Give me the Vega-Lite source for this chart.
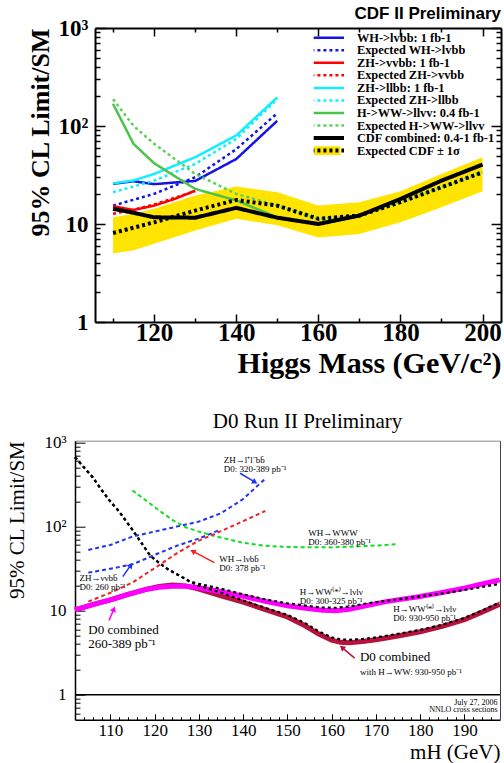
{
"$schema":"https://vega.github.io/schema/vega-lite/v6.json",
"background":"white",
"padding":{"left":6,"top":4,"right":0,"bottom":0},
"columns":1,
"bounds":"flush",
"spacing":118.7,
"resolve":{"scale":{"stroke":"independent","strokeDash":"independent","fill":"independent","angle":"independent"},"legend":{"stroke":"independent","strokeDash":"independent","fill":"independent"}},
"config":{"view":{"stroke":null},"axis":{"grid":false,"tickColor":"black","domainColor":"black","labelColor":"black","titleColor":"black","labelFlush":false,"labelOverlap":false}},
"datasets":{
"cdfband":[
{"m":110,"lo":5.0,"hi":11.7},{"m":115,"lo":5.4,"hi":12.7},{"m":120,"lo":6.3,"hi":14.3},{"m":130,"lo":8.6,"hi":19.5},{"m":140,"lo":11.3,"hi":24.1},{"m":150,"lo":9.7,"hi":21.1},{"m":160,"lo":7.3,"hi":15.4},{"m":170,"lo":7.9,"hi":16.7},{"m":180,"lo":10.4,"hi":21.6},{"m":190,"lo":14.8,"hi":32.4},{"m":200,"lo":21.6,"hi":48}],
"cdflines":[
{"s":"WH->lvbb: 1 fb-1","m":110,"v":25.7},{"s":"WH->lvbb: 1 fb-1","m":115,"v":27.3},{"s":"WH->lvbb: 1 fb-1","m":120,"v":25.5},{"s":"WH->lvbb: 1 fb-1","m":125,"v":26.5},{"s":"WH->lvbb: 1 fb-1","m":130,"v":27.5},{"s":"WH->lvbb: 1 fb-1","m":140,"v":46},{"s":"WH->lvbb: 1 fb-1","m":150,"v":113},
{"s":"Expected WH->lvbb","m":110,"v":15.4},{"s":"Expected WH->lvbb","m":120,"v":20.3},{"s":"Expected WH->lvbb","m":130,"v":30},{"s":"Expected WH->lvbb","m":140,"v":58},{"s":"Expected WH->lvbb","m":150,"v":135},
{"s":"ZH->vvbb: 1 fb-1","m":110,"v":15.2},{"s":"ZH->vvbb: 1 fb-1","m":115,"v":13.9},{"s":"ZH->vvbb: 1 fb-1","m":120,"v":15.4},{"s":"ZH->vvbb: 1 fb-1","m":125,"v":18},{"s":"ZH->vvbb: 1 fb-1","m":130,"v":21.9},
{"s":"Expected ZH->vvbb","m":110,"v":12.7},{"s":"Expected ZH->vvbb","m":115,"v":14},{"s":"Expected ZH->vvbb","m":120,"v":15.8},{"s":"Expected ZH->vvbb","m":125,"v":18.5},{"s":"Expected ZH->vvbb","m":130,"v":21.6},
{"s":"ZH->llbb: 1 fb-1","m":110,"v":26},{"s":"ZH->llbb: 1 fb-1","m":115,"v":27.8},{"s":"ZH->llbb: 1 fb-1","m":120,"v":32.4},{"s":"ZH->llbb: 1 fb-1","m":130,"v":48},{"s":"ZH->llbb: 1 fb-1","m":140,"v":80},{"s":"ZH->llbb: 1 fb-1","m":150,"v":196},
{"s":"Expected ZH->llbb","m":110,"v":21.1},{"s":"Expected ZH->llbb","m":120,"v":27.7},{"s":"Expected ZH->llbb","m":130,"v":41},{"s":"Expected ZH->llbb","m":140,"v":74},{"s":"Expected ZH->llbb","m":150,"v":188},
{"s":"H->WW->llvv: 0.4 fb-1","m":110,"v":168},{"s":"H->WW->llvv: 0.4 fb-1","m":115,"v":65.6},{"s":"H->WW->llvv: 0.4 fb-1","m":120,"v":41.7},{"s":"H->WW->llvv: 0.4 fb-1","m":130,"v":22.8},{"s":"H->WW->llvv: 0.4 fb-1","m":140,"v":17.4},{"s":"H->WW->llvv: 0.4 fb-1","m":150,"v":11.7},{"s":"H->WW->llvv: 0.4 fb-1","m":160,"v":10.2},{"s":"H->WW->llvv: 0.4 fb-1","m":170,"v":12.2},{"s":"H->WW->llvv: 0.4 fb-1","m":180,"v":18},{"s":"H->WW->llvv: 0.4 fb-1","m":190,"v":27.7},{"s":"H->WW->llvv: 0.4 fb-1","m":200,"v":40.4},
{"s":"Expected H->WW->llvv","m":110,"v":188},{"s":"Expected H->WW->llvv","m":115,"v":100},{"s":"Expected H->WW->llvv","m":120,"v":66},{"s":"Expected H->WW->llvv","m":130,"v":32.4},{"s":"Expected H->WW->llvv","m":140,"v":20.3},{"s":"Expected H->WW->llvv","m":150,"v":15.4},{"s":"Expected H->WW->llvv","m":160,"v":11.3},{"s":"Expected H->WW->llvv","m":170,"v":12.2},{"s":"Expected H->WW->llvv","m":180,"v":16.7},{"s":"Expected H->WW->llvv","m":190,"v":23.7},{"s":"Expected H->WW->llvv","m":200,"v":33.7},
{"s":"CDF combined: 0.4-1 fb-1","m":110,"v":14.3},{"s":"CDF combined: 0.4-1 fb-1","m":115,"v":13},{"s":"CDF combined: 0.4-1 fb-1","m":120,"v":11.7},{"s":"CDF combined: 0.4-1 fb-1","m":130,"v":11.6},{"s":"CDF combined: 0.4-1 fb-1","m":140,"v":14.6},{"s":"CDF combined: 0.4-1 fb-1","m":150,"v":11.6},{"s":"CDF combined: 0.4-1 fb-1","m":160,"v":10},{"s":"CDF combined: 0.4-1 fb-1","m":170,"v":12.2},{"s":"CDF combined: 0.4-1 fb-1","m":180,"v":18},{"s":"CDF combined: 0.4-1 fb-1","m":190,"v":27.7},{"s":"CDF combined: 0.4-1 fb-1","m":200,"v":40.4},
{"s":"Expected CDF ± 1σ","m":110,"v":8.1},{"s":"Expected CDF ± 1σ","m":120,"v":10.4},{"s":"Expected CDF ± 1σ","m":130,"v":13.7},{"s":"Expected CDF ± 1σ","m":140,"v":17.6},{"s":"Expected CDF ± 1σ","m":150,"v":15.4},{"s":"Expected CDF ± 1σ","m":160,"v":11.3},{"s":"Expected CDF ± 1σ","m":170,"v":12.2},{"s":"Expected CDF ± 1σ","m":180,"v":16.7},{"s":"Expected CDF ± 1σ","m":190,"v":23.7},{"s":"Expected CDF ± 1σ","m":200,"v":33.7}],
"d0lines":[
{"s":"D0 combined 260-389","m":102,"v":10.2},{"s":"D0 combined 260-389","m":106,"v":11.8},{"s":"D0 combined 260-389","m":110,"v":13.4},{"s":"D0 combined 260-389","m":114,"v":15.6},{"s":"D0 combined 260-389","m":118,"v":17.8},{"s":"D0 combined 260-389","m":121,"v":19.0},{"s":"D0 combined 260-389","m":124,"v":19.5},{"s":"D0 combined 260-389","m":127,"v":19.5},{"s":"D0 combined 260-389","m":130,"v":18.7},{"s":"D0 combined 260-389","m":135,"v":16.8},{"s":"D0 combined 260-389","m":140,"v":14.8},{"s":"D0 combined 260-389","m":145,"v":12.9},{"s":"D0 combined 260-389","m":150,"v":11.4},{"s":"D0 combined 260-389","m":155,"v":10.5},{"s":"D0 combined 260-389","m":158,"v":10.1},{"s":"D0 combined 260-389","m":161,"v":10.0},{"s":"D0 combined 260-389","m":164,"v":10.4},{"s":"D0 combined 260-389","m":168,"v":11.5},{"s":"D0 combined 260-389","m":172,"v":12.7},{"s":"D0 combined 260-389","m":176,"v":13.7},{"s":"D0 combined 260-389","m":180,"v":14.7},{"s":"D0 combined 260-389","m":185,"v":16.4},{"s":"D0 combined 260-389","m":190,"v":18.5},{"s":"D0 combined 260-389","m":194,"v":20.7},{"s":"D0 combined 260-389","m":198,"v":23.2},
{"s":"D0 combined 930-950","m":102,"v":10.2},{"s":"D0 combined 930-950","m":106,"v":11.8},{"s":"D0 combined 930-950","m":110,"v":13.4},{"s":"D0 combined 930-950","m":114,"v":15.6},{"s":"D0 combined 930-950","m":118,"v":17.9},{"s":"D0 combined 930-950","m":121,"v":19.4},{"s":"D0 combined 930-950","m":124,"v":20.1},{"s":"D0 combined 930-950","m":127,"v":19.7},{"s":"D0 combined 930-950","m":130,"v":18.0},{"s":"D0 combined 930-950","m":135,"v":15.0},{"s":"D0 combined 930-950","m":140,"v":12.6},{"s":"D0 combined 930-950","m":145,"v":10.3},{"s":"D0 combined 930-950","m":150,"v":8.4},{"s":"D0 combined 930-950","m":154,"v":6.6},{"s":"D0 combined 930-950","m":157,"v":5.3},{"s":"D0 combined 930-950","m":160,"v":4.45},{"s":"D0 combined 930-950","m":162,"v":4.2},{"s":"D0 combined 930-950","m":164,"v":4.15},{"s":"D0 combined 930-950","m":167,"v":4.3},{"s":"D0 combined 930-950","m":170,"v":4.5},{"s":"D0 combined 930-950","m":175,"v":5.0},{"s":"D0 combined 930-950","m":180,"v":5.6},{"s":"D0 combined 930-950","m":185,"v":6.5},{"s":"D0 combined 930-950","m":190,"v":7.8},{"s":"D0 combined 930-950","m":194,"v":9.6},{"s":"D0 combined 930-950","m":198,"v":11.9},
{"s":"HWW 300-325","m":102,"v":665},{"s":"HWW 300-325","m":104,"v":506},{"s":"HWW 300-325","m":106,"v":385},{"s":"HWW 300-325","m":108,"v":272},{"s":"HWW 300-325","m":110,"v":198},{"s":"HWW 300-325","m":112,"v":150},{"s":"HWW 300-325","m":115,"v":91},{"s":"HWW 300-325","m":117,"v":64},{"s":"HWW 300-325","m":119,"v":45},{"s":"HWW 300-325","m":121,"v":37},{"s":"HWW 300-325","m":123,"v":31},{"s":"HWW 300-325","m":126,"v":25.4},{"s":"HWW 300-325","m":128,"v":22.2},{"s":"HWW 300-325","m":130,"v":20.8},{"s":"HWW 300-325","m":135,"v":18.2},{"s":"HWW 300-325","m":140,"v":15.6},{"s":"HWW 300-325","m":145,"v":13.6},{"s":"HWW 300-325","m":150,"v":12.2},{"s":"HWW 300-325","m":155,"v":11.3},{"s":"HWW 300-325","m":158,"v":10.9},{"s":"HWW 300-325","m":161,"v":10.8},{"s":"HWW 300-325","m":164,"v":11.2},{"s":"HWW 300-325","m":168,"v":12.2},{"s":"HWW 300-325","m":172,"v":13.0},{"s":"HWW 300-325","m":176,"v":13.8},{"s":"HWW 300-325","m":180,"v":14.8},{"s":"HWW 300-325","m":185,"v":16.0},{"s":"HWW 300-325","m":190,"v":17.6},{"s":"HWW 300-325","m":194,"v":19.1},{"s":"HWW 300-325","m":198,"v":20.8},
{"s":"HWW 930-950","m":102,"v":665},{"s":"HWW 930-950","m":104,"v":506},{"s":"HWW 930-950","m":106,"v":385},{"s":"HWW 930-950","m":108,"v":272},{"s":"HWW 930-950","m":110,"v":198},{"s":"HWW 930-950","m":112,"v":150},{"s":"HWW 930-950","m":115,"v":91},{"s":"HWW 930-950","m":117,"v":64},{"s":"HWW 930-950","m":119,"v":45},{"s":"HWW 930-950","m":121,"v":37},{"s":"HWW 930-950","m":123,"v":31},{"s":"HWW 930-950","m":126,"v":25.4},{"s":"HWW 930-950","m":128,"v":22.0},{"s":"HWW 930-950","m":130,"v":19.8},{"s":"HWW 930-950","m":135,"v":16.3},{"s":"HWW 930-950","m":140,"v":13.2},{"s":"HWW 930-950","m":145,"v":10.8},{"s":"HWW 930-950","m":150,"v":8.9},{"s":"HWW 930-950","m":154,"v":7.1},{"s":"HWW 930-950","m":157,"v":5.7},{"s":"HWW 930-950","m":160,"v":4.8},{"s":"HWW 930-950","m":162,"v":4.55},{"s":"HWW 930-950","m":164,"v":4.5},{"s":"HWW 930-950","m":167,"v":4.6},{"s":"HWW 930-950","m":170,"v":4.8},{"s":"HWW 930-950","m":175,"v":5.3},{"s":"HWW 930-950","m":180,"v":5.9},{"s":"HWW 930-950","m":185,"v":6.8},{"s":"HWW 930-950","m":190,"v":8.2},{"s":"HWW 930-950","m":194,"v":10.0},{"s":"HWW 930-950","m":198,"v":12.6},
{"s":"WH→WWW","m":115,"v":268},{"s":"WH→WWW","m":118,"v":205},{"s":"WH→WWW","m":121,"v":155},{"s":"WH→WWW","m":124,"v":120},{"s":"WH→WWW","m":127,"v":98},{"s":"WH→WWW","m":130,"v":87},{"s":"WH→WWW","m":134,"v":76},{"s":"WH→WWW","m":140,"v":64},{"s":"WH→WWW","m":145,"v":59},{"s":"WH→WWW","m":150,"v":57},{"s":"WH→WWW","m":160,"v":56.5},{"s":"WH→WWW","m":165,"v":57.8},{"s":"WH→WWW","m":170,"v":59.4},{"s":"WH→WWW","m":174.5,"v":61.5},
{"s":"ZH→llbb","m":105,"v":52.7},{"s":"ZH→llbb","m":110,"v":60.4},{"s":"ZH→llbb","m":115,"v":76},{"s":"ZH→llbb","m":120,"v":87.1},{"s":"ZH→llbb","m":125,"v":99.8},{"s":"ZH→llbb","m":130,"v":114.5},{"s":"ZH→llbb","m":135,"v":143.8},{"s":"ZH→llbb","m":140,"v":212},{"s":"ZH→llbb","m":145,"v":370},
{"s":"ZH→ννbb","m":105,"v":28.3},{"s":"ZH→ννbb","m":110,"v":31.5},{"s":"ZH→ννbb","m":115,"v":35.5},{"s":"ZH→ννbb","m":120,"v":46},{"s":"ZH→ννbb","m":125,"v":59},{"s":"ZH→ννbb","m":130,"v":72},{"s":"ZH→ννbb","m":134.5,"v":90},
{"s":"WH→lνbb","m":105,"v":12.8},{"s":"WH→lνbb","m":110,"v":16.3},{"s":"WH→lνbb","m":115,"v":21.6},{"s":"WH→lνbb","m":120,"v":32},{"s":"WH→lνbb","m":125,"v":48},{"s":"WH→lνbb","m":130,"v":68},{"s":"WH→lνbb","m":135,"v":88},{"s":"WH→lνbb","m":140,"v":116},{"s":"WH→lνbb","m":145,"v":153}],
"d0arrows":[
{"s":"ZH→llbb","m":139.3,"v":430,"m2":142.5,"v2":341,"dir":121},
{"s":"WH→lνbb","m":133.5,"v":37.3,"m2":128.8,"v2":50.3,"dir":298},
{"s":"ZH→ννbb","m":112.8,"v":25.4,"m2":114.5,"v2":34.0,"dir":35},
{"s":"D0 combined 260-389","m":109.7,"v":7.63,"m2":110.7,"v2":10.2,"dir":22},
{"s":"D0 combined 930-950","m":165.2,"v":2.73,"m2":162.5,"v2":3.59,"dir":309}],
"d0labels":[
{"m":135.6,"v":574,"t":"ZH→l⁺l⁻bb̄\nD0: 320-389 pb⁻¹"},
{"m":154.7,"v":78,"t":"WH→WWW\nD0: 360-380 pb⁻¹"},
{"m":134.6,"v":38.3,"t":"WH→lνbb̄\nD0: 378 pb⁻¹"},
{"m":103.0,"v":22.8,"t":"ZH→ννbb̄\nD0: 260 pb⁻¹"},
{"m":152.8,"v":15.4,"t":"H→WW⁽*⁾→lνlν\nD0: 300-325 pb⁻¹"},
{"m":173.9,"v":9.76,"t":"H→WW⁽*⁾→lνlν\nD0: 930-950 pb⁻¹"},
{"m":166.4,"v":1.695,"t":"with H→WW: 930-950 pb⁻¹"}],
"d0captions":[
{"m":105.0,"v":5.30,"t":"D0 combined\n260-389 pb⁻¹"},
{"m":166.4,"v":2.49,"t":"D0 combined"}],
"d0stamp":[
{"m":197.5,"v":0.76,"t":"July 27, 2006\nNNLO cross sections"}]
},
"concat":[
{
"width":426,"height":294,
"title":{"text":"CDF II Preliminary","anchor":"end","frame":"group","font":"Liberation Sans","fontWeight":"bold","fontSize":17,"offset":-5.5,"color":"black"},
"resolve":{"axis":{"x":"independent","y":"independent"}},
"layer":[
{"data":{"name":"cdfband"},
"mark":{"type":"area","opacity":1},
"encoding":{
"x":{"field":"m","type":"quantitative","scale":{"domain":[105.6,204.5],"range":[20,426],"nice":false,"zero":false},
"axis":{"orient":"bottom","values":[120,140,160,180,200],"tickSize":-8,"tickWidth":1.5,"domain":true,"domainWidth":2,"labelFont":"Liberation Serif","labelFontWeight":"bold","labelFontSize":25,"labelPadding":6,"title":"Higgs Mass (GeV/c²)","titleFont":"Liberation Serif","titleFontWeight":"bold","titleFontSize":30,"titleAnchor":"end","titlePadding":3}},
"y":{"field":"hi","type":"quantitative","scale":{"type":"log","domain":[1,1000],"nice":false},
"axis":{"orient":"left","offset":-20,"values":[1,10,100,1000],"tickSize":-10,"tickWidth":1.5,"domain":true,"domainWidth":2,"labelFont":"Liberation Serif","labelFontWeight":"bold","labelFontSize":23,"labelPadding":17,"labelExpr":"datum.value > 500 ? '10³' : datum.value > 50 ? '10²' : datum.value > 5 ? '10' : '1'","title":"95% CL Limit/SM","titleFont":"Liberation Serif","titleFontWeight":"bold","titleFontSize":26,"titleAnchor":"end","titlePadding":5}},
"y2":{"field":"lo"},
"fill":{"datum":"Expected CDF ± 1σ","type":"nominal","scale":{"range":["#ffe400"]},
"legend":{"title":null,"orient":"none","legendX":238.7,"legendY":116.35,"symbolType":"M-2.6,-0.7H2.6V0.7H-2.6Z","symbolSize":157,"symbolOffset":9.8,"symbolStrokeWidth":0,"symbolOpacity":1,"clipHeight":12.55,"padding":0,"labelFont":"Liberation Serif","labelFontSize":12.4,"labelOpacity":0,"labelExpr":"''"}}
}},
{"data":{"name":"cdflines"},
"transform":[{"filter":{"field":"s","oneOf":["WH->lvbb: 1 fb-1","Expected WH->lvbb","ZH->vvbb: 1 fb-1","Expected ZH->vvbb","ZH->llbb: 1 fb-1","Expected ZH->llbb","H->WW->llvv: 0.4 fb-1","Expected H->WW->llvv"]}}],
"mark":{"type":"line","strokeWidth":2.5},
"encoding":{
"x":{"field":"m","type":"quantitative","scale":{"domain":[105.6,204.5],"range":[20,426],"nice":false,"zero":false},"axis":{"orient":"bottom","values":[110,130,150,170,190],"tickSize":-4,"tickWidth":1.5,"domain":false,"labels":false,"title":null}},
"y":{"field":"v","type":"quantitative","scale":{"type":"log","domain":[1,1000],"nice":false},"axis":{"orient":"left","offset":-20,"values":[2,3,4,5,6,7,8,9,20,30,40,50,60,70,80,90,200,300,400,500,600,700,800,900],"tickSize":-5,"tickWidth":1.5,"domain":false,"labels":false,"title":null}},
"stroke":{"field":"s","type":"nominal","scale":{"domain":["WH->lvbb: 1 fb-1","Expected WH->lvbb","ZH->vvbb: 1 fb-1","Expected ZH->vvbb","ZH->llbb: 1 fb-1","Expected ZH->llbb","H->WW->llvv: 0.4 fb-1","Expected H->WW->llvv","CDF combined: 0.4-1 fb-1","Expected CDF ± 1σ"],"range":["#1414e6","#1414e6","#ff0000","#ff0000","#11eeff","#11eeff","#4cc44c","#5ad25a","#000000","#000000"]},
"legend":{"title":null,"orient":"none","legendX":238.7,"legendY":3.4,"symbolType":"M-2.6,0H2.6","symbolSize":157,"symbolOffset":7.8,"symbolStrokeWidth":2.5,"clipHeight":12.55,"gridAlign":"none","rowPadding":-0.45,"padding":0,"labelFont":"Liberation Serif","labelFontWeight":"bold","labelFontSize":12.4,"labelColor":"black","labelOffset":23,"labelLimit":400,"encode":{"symbols":{"update":{"strokeWidth":{"signal":"datum.value === 'CDF combined: 0.4-1 fb-1' || datum.value === 'Expected CDF ± 1σ' ? 4 : 2.5"}}}}}},
"strokeDash":{"field":"s","type":"nominal","scale":{"domain":["WH->lvbb: 1 fb-1","Expected WH->lvbb","ZH->vvbb: 1 fb-1","Expected ZH->vvbb","ZH->llbb: 1 fb-1","Expected ZH->llbb","H->WW->llvv: 0.4 fb-1","Expected H->WW->llvv","CDF combined: 0.4-1 fb-1","Expected CDF ± 1σ"],"range":[[1,0],[3,3],[1,0],[3,3],[1,0],[3,3],[1,0],[3,3],[1,0],[3,3]]},
"legend":{"title":null,"orient":"none","legendX":238.7,"legendY":3.4,"symbolType":"M-2.6,0H2.6","symbolSize":157,"symbolOffset":7.8,"symbolStrokeWidth":2.5,"clipHeight":12.55,"gridAlign":"none","rowPadding":-0.45,"padding":0,"labelFont":"Liberation Serif","labelFontWeight":"bold","labelFontSize":12.4,"labelColor":"black","labelOffset":23,"labelLimit":400,"encode":{"symbols":{"update":{"strokeWidth":{"signal":"datum.value === 'CDF combined: 0.4-1 fb-1' || datum.value === 'Expected CDF ± 1σ' ? 4 : 2.5"}}}}}}
}},
{"data":{"name":"cdflines"},
"transform":[{"filter":{"field":"s","equal":"CDF combined: 0.4-1 fb-1"}}],
"mark":{"type":"line","strokeWidth":4},
"encoding":{
"x":{"field":"m","type":"quantitative","scale":{"domain":[105.6,204.5],"range":[20,426],"nice":false,"zero":false},"axis":{"orient":"top","values":[120,140,160,180,200],"tickSize":-8,"tickWidth":1.5,"domain":true,"domainWidth":2,"labels":false,"title":null}},
"y":{"field":"v","type":"quantitative","scale":{"type":"log","domain":[1,1000],"nice":false},"axis":{"orient":"right","values":[1,10,100,1000],"tickSize":-10,"tickWidth":1.5,"domain":true,"domainWidth":2,"labels":false,"title":null}},
"stroke":{"field":"s","type":"nominal"},
"strokeDash":{"field":"s","type":"nominal"}
}},
{"data":{"name":"cdflines"},
"transform":[{"filter":{"field":"s","equal":"Expected CDF ± 1σ"}}],
"mark":{"type":"line","strokeWidth":4},
"encoding":{
"x":{"field":"m","type":"quantitative","scale":{"domain":[105.6,204.5],"range":[20,426],"nice":false,"zero":false},"axis":{"orient":"top","values":[110,130,150,170,190],"tickSize":-4,"tickWidth":1.5,"domain":false,"labels":false,"title":null}},
"y":{"field":"v","type":"quantitative","scale":{"type":"log","domain":[1,1000],"nice":false},"axis":{"orient":"right","values":[2,3,4,5,6,7,8,9,20,30,40,50,60,70,80,90,200,300,400,500,600,700,800,900],"tickSize":-5,"tickWidth":1.5,"domain":false,"labels":false,"title":null}},
"stroke":{"field":"s","type":"nominal"},
"strokeDash":{"field":"s","type":"nominal"}
}}
]
},
{
"width":425,"height":279,
"title":{"text":"D0 Run II Preliminary","anchor":"middle","frame":"group","dx":20,"font":"Liberation Serif","fontWeight":"normal","fontSize":21,"offset":1.5,"color":"black"},
"resolve":{"axis":{"x":"independent","y":"independent"}},
"layer":[
{"data":{"values":[{}]},
"mark":{"type":"rule","color":"black","strokeWidth":1.5},
"encoding":{"y":{"datum":1,"type":"quantitative","scale":{"type":"log","domain":[0.505,1048],"nice":false},
"axis":{"orient":"left","values":[1,10,100,1000],"tickSize":-10,"tickWidth":1,"domain":true,"domainWidth":1.5,"labelFont":"Liberation Serif","labelFontSize":17,"labelPadding":19,"labelExpr":"datum.value > 500 ? '10³' : datum.value > 50 ? '10²' : datum.value > 5 ? '10' : '1'","title":"95% CL Limit/SM","titleFont":"Liberation Serif","titleFontWeight":"normal","titleFontSize":21,"titleAnchor":"end","titlePadding":16}}}},
{"data":{"name":"d0lines"},
"transform":[{"filter":{"field":"s","equal":"D0 combined 930-950"}}],
"mark":{"type":"line","color":"#b5123e","strokeWidth":5},
"encoding":{
"x":{"field":"m","type":"quantitative","scale":{"domain":[102,198.05],"nice":false,"zero":false},"axis":{"orient":"bottom","values":[110,120,130,140,150,160,170,180,190],"tickSize":-6,"tickWidth":1,"domain":true,"domainWidth":1.5,"labelFont":"Liberation Serif","labelFontSize":17,"labelPadding":8.8,"title":"mH (GeV)","titleFont":"Liberation Serif","titleFontWeight":"normal","titleFontSize":21,"titleAnchor":"end","titlePadding":3}},
"y":{"field":"v","type":"quantitative","scale":{"type":"log","domain":[0.505,1048],"nice":false},"axis":{"orient":"left","values":[0.6,0.7,0.8,0.9,2,3,4,5,6,7,8,9,20,30,40,50,60,70,80,90,200,300,400,500,600,700,800,900],"tickSize":-5,"tickWidth":1,"domain":false,"labels":false,"title":null}}
}},
{"data":{"name":"d0lines"},
"transform":[{"filter":{"field":"s","equal":"D0 combined 260-389"}}],
"mark":{"type":"line","color":"#ff00ff","strokeWidth":5},
"encoding":{
"x":{"field":"m","type":"quantitative","scale":{"domain":[102,198.05],"nice":false,"zero":false},"axis":{"orient":"bottom","values":[104,106,108,112,114,116,118,122,124,126,128,132,134,136,138,142,144,146,148,152,154,156,158,162,164,166,168,172,174,176,178,182,184,186,188,192,194,196],"tickSize":-3,"tickWidth":1,"domain":false,"labels":false,"title":null}},
"y":{"field":"v","type":"quantitative","scale":{"type":"log","domain":[0.505,1048],"nice":false},"axis":{"orient":"right","ticks":false,"labels":false,"domain":true,"domainColor":"#444444","domainWidth":1,"title":null}}
}},
{"data":{"name":"d0lines"},
"transform":[{"filter":{"field":"s","oneOf":["HWW 300-325","HWW 930-950"]}}],
"mark":{"type":"line","color":"black","strokeWidth":2.2,"strokeDash":[3,3]},
"encoding":{
"x":{"field":"m","type":"quantitative","scale":{"domain":[102,198.05],"nice":false,"zero":false},"axis":{"orient":"top","ticks":false,"labels":false,"domain":true,"domainColor":"#888888","domainWidth":1,"title":null}},
"y":{"field":"v","type":"quantitative","scale":{"type":"log","domain":[0.505,1048],"nice":false},"axis":null},
"detail":{"field":"s"}
}},
{"data":{"name":"d0lines"},
"transform":[{"filter":{"field":"s","oneOf":["WH→WWW","ZH→llbb","ZH→ννbb","WH→lνbb"]}}],
"mark":{"type":"line","strokeWidth":2,"strokeDash":[4,3]},
"encoding":{
"x":{"field":"m","type":"quantitative","scale":{"domain":[102,198.05],"nice":false,"zero":false},"axis":null},
"y":{"field":"v","type":"quantitative","scale":{"type":"log","domain":[0.505,1048],"nice":false},"axis":null},
"stroke":{"field":"s","type":"nominal","scale":{"domain":["ZH→llbb","ZH→ννbb","WH→lνbb","WH→WWW","D0 combined 260-389","D0 combined 930-950"],"range":["#2233ee","#2233ee","#ee2222","#11dd22","#ff00ff","#b5123e"]},"legend":null}
}},
{"data":{"name":"d0arrows"},
"mark":{"type":"rule","strokeWidth":1.5},
"encoding":{
"x":{"field":"m","type":"quantitative","scale":{"domain":[102,198.05],"nice":false,"zero":false},"axis":null},
"y":{"field":"v","type":"quantitative","scale":{"type":"log","domain":[0.505,1048],"nice":false},"axis":null},
"x2":{"field":"m2"},"y2":{"field":"v2"},
"stroke":{"field":"s","type":"nominal","scale":{"domain":["ZH→llbb","ZH→ννbb","WH→lνbb","WH→WWW","D0 combined 260-389","D0 combined 930-950"],"range":["#2233ee","#2233ee","#ee2222","#11dd22","#ff00ff","#b5123e"]},"legend":null}
}},
{"data":{"name":"d0arrows"},
"mark":{"type":"point","shape":"triangle","filled":true,"size":40,"opacity":1},
"encoding":{
"x":{"field":"m2","type":"quantitative","scale":{"domain":[102,198.05],"nice":false,"zero":false},"axis":null},
"y":{"field":"v2","type":"quantitative","scale":{"type":"log","domain":[0.505,1048],"nice":false},"axis":null},
"angle":{"field":"dir","type":"quantitative","scale":null},
"fill":{"field":"s","type":"nominal","scale":{"domain":["ZH→llbb","ZH→ννbb","WH→lνbb","WH→WWW","D0 combined 260-389","D0 combined 930-950"],"range":["#2233ee","#2233ee","#ee2222","#11dd22","#ff00ff","#b5123e"]},"legend":null}
}},
{"data":{"name":"d0labels"},
"mark":{"type":"text","font":"Liberation Serif","fontSize":9,"align":"left","baseline":"alphabetic","lineBreak":"\n","lineHeight":9,"color":"black"},
"encoding":{
"x":{"field":"m","type":"quantitative","scale":{"domain":[102,198.05],"nice":false,"zero":false},"axis":null},
"y":{"field":"v","type":"quantitative","scale":{"type":"log","domain":[0.505,1048],"nice":false},"axis":null},
"text":{"field":"t"}
}},
{"data":{"name":"d0captions"},
"mark":{"type":"text","font":"Liberation Serif","fontSize":13,"align":"left","baseline":"alphabetic","lineBreak":"\n","lineHeight":13.7,"color":"black"},
"encoding":{
"x":{"field":"m","type":"quantitative","scale":{"domain":[102,198.05],"nice":false,"zero":false},"axis":null},
"y":{"field":"v","type":"quantitative","scale":{"type":"log","domain":[0.505,1048],"nice":false},"axis":null},
"text":{"field":"t"}
}},
{"data":{"name":"d0stamp"},
"mark":{"type":"text","font":"Liberation Serif","fontSize":8,"align":"right","baseline":"alphabetic","lineBreak":"\n","lineHeight":7.5,"color":"black"},
"encoding":{
"x":{"field":"m","type":"quantitative","scale":{"domain":[102,198.05],"nice":false,"zero":false},"axis":null},
"y":{"field":"v","type":"quantitative","scale":{"type":"log","domain":[0.505,1048],"nice":false},"axis":null},
"text":{"field":"t"}
}}
]
}
]
}
